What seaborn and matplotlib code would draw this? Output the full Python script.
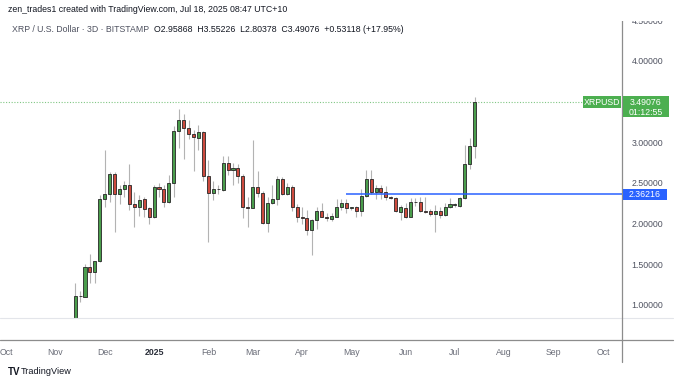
import matplotlib
matplotlib.use("Agg")
import matplotlib.pyplot as plt
import matplotlib.dates as mdates
from matplotlib.lines import Line2D
from matplotlib.patches import Rectangle
from matplotlib.transforms import IdentityTransform
import pandas as pd
import seaborn as sns

# XRP/USD 3D candles (first bar opens 2024-11-14)
first_bar = "2024-11-14"
opens = [0.72, 1.114, 1.102, 1.471, 1.41, 1.537, 2.30, 2.36, 2.61, 2.37,
         2.42, 2.48, 2.24, 2.20, 2.30, 2.19, 2.08, 2.455, 2.42, 2.27,
         2.50, 3.14, 3.27, 3.17, 3.10, 3.05, 3.13, 2.58, 2.38, 2.42,
         2.41, 2.74, 2.66, 2.68, 2.58, 2.20, 2.19, 2.455, 2.38, 2.01,
         2.25, 2.30, 2.545, 2.365, 2.45, 2.21, 2.085, 2.065, 1.92, 2.045,
         2.156, 2.085, 2.06, 2.085, 2.20, 2.25, 2.19, 2.20, 2.15, 2.34,
         2.545, 2.385, 2.435, 2.395, 2.33, 2.31, 2.14, 2.19, 2.085, 2.27,
         2.27, 2.15, 2.16, 2.12, 2.16, 2.11, 2.21, 2.23, 2.22, 2.31,
         2.735, 2.95868]
highs = [1.27, 1.176, 1.504, 1.627, 1.54, 2.35, 2.91, 2.64, 2.64, 2.48,
         2.52, 2.73, 2.39, 2.35, 2.33, 2.21, 2.475, 2.50, 2.475, 2.60,
         3.20, 3.41, 3.35, 3.28, 3.15, 3.21, 3.14, 2.78, 2.53, 2.47,
         2.83, 2.83, 2.75, 2.73, 2.61, 2.33, 3.03, 2.65, 2.40, 2.33,
         2.475, 2.59, 2.57, 2.50, 2.475, 2.24, 2.21, 2.17, 2.06, 2.20,
         2.25, 2.13, 2.135, 2.30, 2.30, 2.30, 2.21, 2.22, 2.42, 2.66,
         2.66, 2.475, 2.475, 2.46, 2.34, 2.33, 2.23, 2.25, 2.31, 2.32,
         2.33, 2.33, 2.18, 2.23, 2.21, 2.25, 2.32, 2.26, 2.33, 2.97,
         3.05, 3.55226]
lows = [0.66, 1.033, 1.095, 1.274, 1.274, 1.53, 2.21, 2.27, 1.90, 2.24,
        2.33, 2.17, 1.96, 2.10, 2.08, 1.99, 2.07, 2.33, 2.20, 2.25,
        2.33, 2.93, 2.80, 3.04, 2.65, 2.91, 2.52, 1.77, 2.29, 2.37,
        2.40, 2.60, 2.475, 2.50, 2.07, 1.955, 2.19, 2.33, 2.00, 1.90,
        2.24, 2.23, 2.35, 2.35, 2.15, 2.02, 2.00, 1.86, 1.615, 1.93,
        2.08, 2.035, 2.03, 2.08, 2.17, 2.13, 2.17, 2.08, 2.10, 2.33,
        2.37, 2.30, 2.30, 2.29, 2.30, 2.14, 2.05, 2.065, 2.08, 2.22,
        2.14, 2.13, 2.09, 1.90, 2.07, 2.10, 2.19, 2.21, 2.21, 2.30,
        2.67, 2.80378]
closes = [1.114, 1.105, 1.471, 1.41, 1.537, 2.30, 2.36, 2.61, 2.37, 2.42,
          2.48, 2.24, 2.20, 2.29, 2.18, 2.08, 2.455, 2.42, 2.27, 2.50,
          3.14, 3.27, 3.17, 3.10, 3.06, 3.13, 2.58, 2.38, 2.42, 2.43,
          2.74, 2.66, 2.68, 2.58, 2.20, 2.19, 2.455, 2.38, 2.01, 2.25,
          2.30, 2.545, 2.365, 2.45, 2.21, 2.085, 2.065, 1.92, 2.045, 2.156,
          2.085, 2.065, 2.09, 2.20, 2.25, 2.19, 2.20, 2.15, 2.34, 2.545,
          2.385, 2.435, 2.395, 2.33, 2.31, 2.15, 2.20, 2.085, 2.27, 2.265,
          2.15, 2.145, 2.12, 2.16, 2.11, 2.21, 2.24, 2.24, 2.31, 2.735,
          2.95868, 3.49076]

level = 2.36216
level_start = "2025-04-28"
last_price = 3.49076
countdown = "01:12:55"

price_ticks = [1.0, 1.5, 2.0, 2.5, 3.0, 4.0, 4.5]
month_ticks = ["2024-10-03", "2024-11-02", "2024-12-02", "2025-01-01", "2025-02-03",
               "2025-03-02", "2025-04-01", "2025-05-01", "2025-06-03", "2025-07-03",
               "2025-08-02", "2025-09-01", "2025-10-01"]
month_labels = ["Oct", "Nov", "Dec", "2025", "Feb", "Mar", "Apr", "May", "Jun",
                "Jul", "Aug", "Sep", "Oct"]

header = "zen_trades1 created with TradingView.com, Jul 18, 2025 08:47 UTC+10"
symbol = "XRP / U.S. Dollar · 3D · BITSTAMP"
ohlc = "O2.95868  H3.55226  L2.80378  C3.49076  +0.53118 (+17.95%)"

UP, DOWN = "#4a9d4c", "#cc4a3e"
GREEN_TAG, BLUE = "#4caf50", "#2962ff"
AXIS_TXT = "#4f5260"

sns.set_theme(style="white")
plt.rcParams["font.family"] = ["Liberation Sans", "DejaVu Sans"]

df = pd.DataFrame({
    "date": pd.date_range(first_bar, periods=len(opens), freq="3D"),
    "open": opens, "high": highs, "low": lows, "close": closes,
})
df["x"] = mdates.date2num(df["date"])
df["up"] = df["close"] >= df["open"]
df["bottom"] = df[["open", "close"]].min(axis=1)
df["body"] = (df["close"] - df["open"]).abs().clip(lower=0.006)

W, H = 680, 386
fig = plt.figure(figsize=(W / 100, H / 100), dpi=100)
fig.patch.set_facecolor("white")


def fx(px):
    return px / W


def fy(py):
    return 1 - py / H


ax = fig.add_axes([0, fy(318), fx(622), fy(20) - fy(318)])
ax2 = fig.add_axes([0, fy(340), fx(622), fy(318) - fy(340)])

last_x = df["x"].iloc[-1]
xlim = (last_x - 288.7, last_x + 89.6)
for a in (ax, ax2):
    a.set_xlim(*xlim)
    a.set_facecolor("none")
    for s in a.spines.values():
        s.set_visible(False)
ax.set_ylim(0.84, 4.504)

# candles
ax.vlines(df["x"], df["low"], df["high"], color="#b3b3b3", lw=0.8, zorder=1)
ax.bar(df["x"], df["body"], bottom=df["bottom"], width=1.85,
       color=[UP if u else DOWN for u in df["up"]],
       edgecolor="#262626", linewidth=0.6, zorder=2)

# last price dotted line and the drawn level
ax.axhline(last_price, color=GREEN_TAG, ls=(0, (1, 1.5)), lw=0.8, alpha=0.7, zorder=0)
ax.hlines(level, mdates.date2num(pd.Timestamp(level_start)), xlim[1],
          color=BLUE, lw=1.1, zorder=3)

# price axis
ax.set_xticks([])
ax.yaxis.tick_right()
ax.set_yticks(price_ticks)
ax.set_yticklabels([f"{t:.5f}" for t in price_ticks])
ax.tick_params(axis="y", length=0, pad=7, labelsize=6.3, labelcolor=AXIS_TXT)

# time axis
ax2.set_yticks([])
ax2.set_xticks(mdates.date2num(pd.to_datetime(month_ticks)))
ax2.set_xticklabels(month_labels)
ax2.tick_params(axis="x", length=0, pad=6, labelsize=6.3, labelcolor="#6a6d78")
for lbl in ax2.get_xticklabels():
    if lbl.get_text() == "2025":
        lbl.set_fontweight("bold")
        lbl.set_color("#2a2e39")

# frame lines
fig.add_artist(Line2D([0, fx(673)], [fy(318), fy(318)], color="#e3e5ea", lw=0.8))
fig.add_artist(Line2D([0, fx(673)], [fy(340), fy(340)], color="#8c8c8c", lw=0.9))
fig.add_artist(Line2D([fx(622), fx(622)], [fy(20), fy(362)], color="#8c8c8c", lw=0.9))
# panel top hides the upper half of the 4.5 label
fig.add_artist(Rectangle((fx(600), fy(20.5)), fx(80), fy(0) - fy(20.5),
                         transform=fig.transFigure, fc="white", ec="none", zorder=5))


def tag(price, x0, x1, up, down, color, lines):
    yd = ax.transData.transform((xlim[0], price))[1]
    fig.add_artist(Rectangle((x0, yd - down), x1 - x0, up + down,
                             transform=IdentityTransform(), fc=color, ec="none", zorder=6))
    for i, t in enumerate(lines):
        fig.text((x0 + x1) / 2 / W, (yd - 10.5 * i) / H, t, ha="center", va="center",
                 color="white", fontsize=6.3, zorder=7)


tag(last_price, 623, 669, 6.5, 14.5, GREEN_TAG, [f"{last_price:.5f}", countdown])
tag(last_price, 583, 621, 6.5, 6.0, GREEN_TAG, ["XRPUSD"])
tag(level, 623, 667, 5.0, 5.5, BLUE, [f"{level:.5f}"])

# header texts
fig.text(fx(8), fy(10), header, fontsize=6.3, color="#131722", va="center")
fig.text(fx(12), fy(30), symbol, fontsize=6.3, color="#4f5260", va="center")
fig.text(fx(154), fy(30), ohlc, fontsize=6.3, color="#131722", va="center")

# logo
fig.text(fx(8), fy(372), "TV", fontsize=7, fontweight="bold", color="#131722", va="center")
fig.text(fx(21), fy(372), "TradingView", fontsize=6.6, color="#131722", va="center")

fig.savefig("out.png", dpi=100)
